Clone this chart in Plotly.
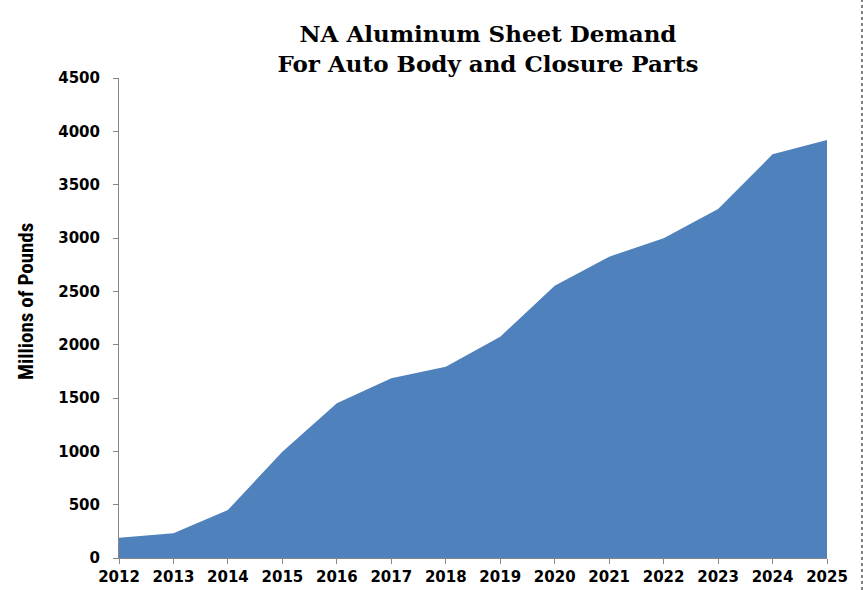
import plotly.graph_objects as go

years = [2012, 2013, 2014, 2015, 2016, 2017, 2018, 2019, 2020, 2021, 2022, 2023, 2024, 2025]
demand = [190, 231, 450, 997, 1450, 1685, 1794, 2075, 2553, 2825, 2997, 3272, 3784, 3919]
y_ticks = list(range(0, 4501, 500))

title_text = "NA Aluminum Sheet Demand<br>For Auto Body and Closure Parts"
y_label = "Millions of Pounds"

fig = go.Figure()
fig.add_trace(go.Scatter(
    x=years, y=demand, mode="lines", fill="tozeroy",
    line=dict(color="#4F81BD", width=0), fillcolor="#4F81BD",
    hoverinfo="x+y", showlegend=False,
))

W, H = 863, 590
L, R, T, B = 119, 36, 78, 32
PW, PH = W - L - R, H - T - B
tick_font = dict(family="DejaVu Sans, Verdana, sans-serif", size=15, color="black", weight="bold")
title_font = dict(family="DejaVu Serif, serif", size=23, color="black", weight="bold")

fig.update_layout(
    width=W, height=H,
    margin=dict(l=L, r=R, t=T, b=B),
    paper_bgcolor="white", plot_bgcolor="white",
    title=dict(text=title_text, x=488 / W, xanchor="center",
               y=1 - 42 / H, yanchor="middle", font=title_font),
    xaxis=dict(range=[2012, 2025], tickvals=years, ticktext=[str(y) for y in years],
               showgrid=False, zeroline=False, showline=True, linecolor="#868686", linewidth=1,
               ticks="outside", ticklen=5, tickcolor="#868686", automargin=False,
               tickfont=tick_font),
    yaxis=dict(range=[0, 4500], tickvals=y_ticks, showgrid=False, zeroline=False,
               showline=True, linecolor="#868686", linewidth=1,
               ticks="outside", ticklen=5, tickcolor="#868686", automargin=False,
               ticklabelstandoff=10,
               tickfont=tick_font),
    annotations=[
        dict(text=y_label, textangle=-90, xref="paper", yref="paper",
             x=(26 - L) / PW, y=(H - B - 301) / PH,
             xanchor="center", yanchor="middle", showarrow=False,
             font=dict(family="Liberation Sans Narrow, Roboto Condensed, Liberation Sans, sans-serif",
                       size=21, color="black", weight="bold")),
    ],
    shapes=[dict(type="line", xref="paper", yref="paper",
                 x0=(862 - L) / PW, x1=(862 - L) / PW,
                 y0=-B / PH, y1=(H - B) / PH,
                 line=dict(color="black", width=1, dash="dot"))],
)

fig.write_html("out.html")
